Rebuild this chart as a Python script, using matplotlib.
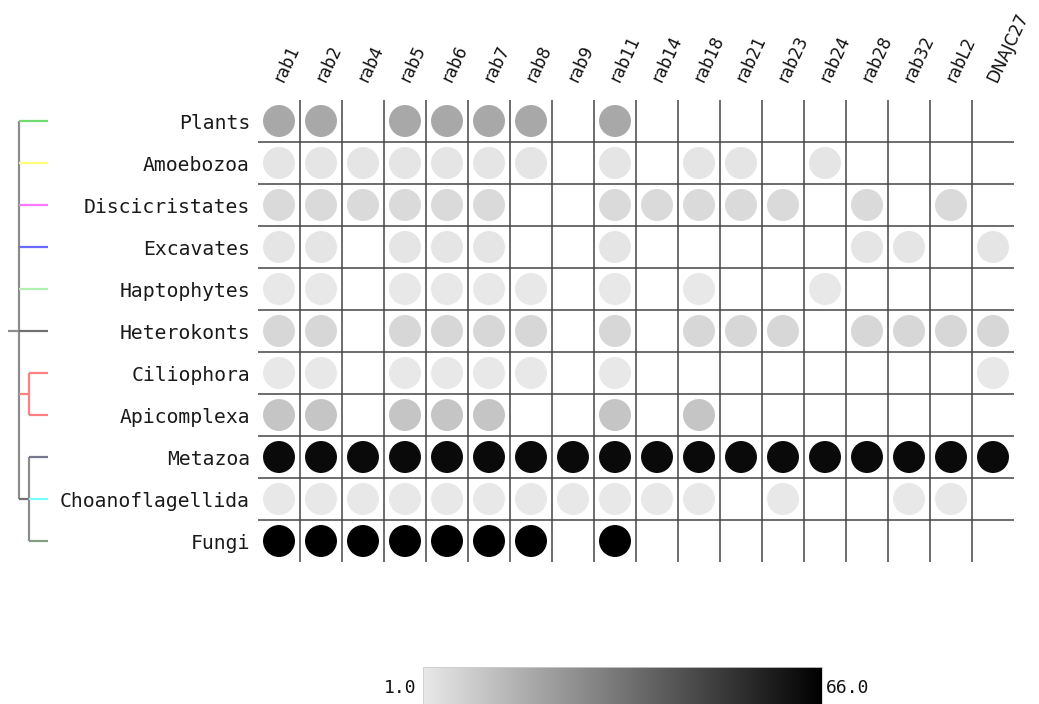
import matplotlib
matplotlib.use("Agg")
import matplotlib.pyplot as plt
import numpy as np
from matplotlib.colors import LinearSegmentedColormap, Normalize

W, H = 1039, 704

taxa = ["Plants", "Amoebozoa", "Discicristates", "Excavates", "Haptophytes",
        "Heterokonts", "Ciliophora", "Apicomplexa", "Metazoa",
        "Choanoflagellida", "Fungi"]
genes = ["rab1", "rab2", "rab4", "rab5", "rab6", "rab7", "rab8", "rab9",
         "rab11", "rab14", "rab18", "rab21", "rab23", "rab24", "rab28",
         "rab32", "rabL2", "DNAJC27"]

# number of species per group (colour value), 0 = absent
values = [
    [19, 19, 0, 19, 19, 19, 19, 0, 19, 0, 0, 0, 0, 0, 0, 0, 0, 0],
    [2, 2, 2, 2, 2, 2, 2, 0, 2, 0, 2, 2, 0, 2, 0, 0, 0, 0],
    [5, 5, 5, 5, 5, 5, 0, 0, 5, 5, 5, 5, 5, 0, 5, 0, 5, 0],
    [2, 2, 0, 2, 2, 2, 0, 0, 2, 0, 0, 0, 0, 0, 2, 2, 0, 2],
    [1, 1, 0, 1, 1, 1, 1, 0, 1, 0, 1, 0, 0, 1, 0, 0, 0, 0],
    [6, 6, 0, 6, 6, 6, 6, 0, 6, 0, 6, 6, 6, 0, 6, 6, 6, 6],
    [1, 1, 0, 1, 1, 1, 1, 0, 1, 0, 0, 0, 0, 0, 0, 0, 0, 1],
    [11, 11, 0, 11, 11, 11, 0, 0, 11, 0, 11, 0, 0, 0, 0, 0, 0, 0],
    [63] * 18,
    [1, 1, 1, 1, 1, 1, 1, 1, 1, 1, 1, 0, 1, 0, 0, 1, 1, 0],
    [66, 66, 66, 66, 66, 66, 66, 0, 66, 0, 0, 0, 0, 0, 0, 0, 0, 0],
]
vmin, vmax = 1.0, 66.0

branch_colors = ["#6fdc6f", "#ffff77", "#ff77ff", "#6a6aff", "#b0f0b0",
                 "#707070", "#ff8080", "#ff8080", "#77778f", "#77ffff",
                 "#809f80"]

fig = plt.figure(figsize=(W / 100, H / 100), dpi=100)

def rect(x0, y0, x1, y1):
    return [x0 / W, 1 - y1 / H, (x1 - x0) / W, (y1 - y0) / H]

cmap = LinearSegmentedColormap.from_list("g", ["#e8e8e8", "#000000"])
norm = Normalize(vmin=vmin, vmax=vmax)

# ---- heat grid ----
ax = fig.add_axes(rect(258, 100, 1014, 562))
nr, nc = len(taxa), len(genes)
ax.set_xlim(-0.5, nc - 0.5)
ax.set_ylim(nr - 0.5, -0.5)
ax.axis("off")
for j in range(1, nc):
    ax.plot([j - 0.5, j - 0.5], [-0.5, nr - 0.5], color="#454545", lw=1.1,
            solid_capstyle="butt", zorder=1)
for i in range(1, nr):
    ax.plot([-0.5, nc - 0.5], [i - 0.5, i - 0.5], color="#454545", lw=1.1,
            solid_capstyle="butt", zorder=1)

xs, ys, cs = [], [], []
for i, row in enumerate(values):
    for j, v in enumerate(row):
        if v > 0:
            xs.append(j); ys.append(i); cs.append(v)
ax.scatter(xs, ys, c=cs, cmap=cmap, norm=norm, s=530, linewidths=0,
           zorder=3)

for j, g in enumerate(genes):
    ax.text(j + 0.1, -0.5 - 17 / 42, g, rotation=65, rotation_mode="anchor",
            ha="left", va="baseline", fontsize=12, family="DejaVu Sans",
            color="#111111", clip_on=False)

for i, t in enumerate(taxa):
    ax.text(-0.5 - 8 / 42, i + 2.5 / 42, t, ha="right", va="center",
            fontsize=14.2, family="DejaVu Sans Mono", color="#1a1a1a",
            clip_on=False)

# ---- tree ----
tx = fig.add_axes(rect(0, 100, 60, 562))
tx.set_xlim(0, 60)
tx.set_ylim(nr - 0.5, -0.5)
tx.axis("off")
lw = 1.6
gray = "#8c8c8c"
# root
tx.plot([8, 19], [5, 5], color=gray, lw=lw, solid_capstyle="butt")
tx.plot([19, 19], [0, 9], color=gray, lw=lw, solid_capstyle="butt")
for i in range(6):
    tx.plot([19, 48], [i, i], color=branch_colors[i], lw=lw,
            solid_capstyle="butt")
# Ciliophora + Apicomplexa
tx.plot([19, 29], [6.5, 6.5], color="#ff8080", lw=lw, solid_capstyle="butt")
tx.plot([29, 29], [6, 7], color="#ff8080", lw=lw, solid_capstyle="butt")
for i in (6, 7):
    tx.plot([29, 48], [i, i], color=branch_colors[i], lw=lw,
            solid_capstyle="butt")
# Opisthokonts
tx.plot([19, 29], [9, 9], color="#707070", lw=lw, solid_capstyle="butt")
tx.plot([29, 29], [8, 10], color=gray, lw=lw, solid_capstyle="butt")
for i in (8, 9, 10):
    tx.plot([29, 48], [i, i], color=branch_colors[i], lw=lw,
            solid_capstyle="butt")

# ---- colour bar ----
cax = fig.add_axes(rect(423, 667, 822, 704))
cb = fig.colorbar(plt.cm.ScalarMappable(norm=norm, cmap=cmap), cax=cax,
                  orientation="horizontal")
cb.set_ticks([])
cb.outline.set_edgecolor("#cccccc")
cb.outline.set_linewidth(0.6)
fig.text(416 / W, 1 - 688 / H, "%.1f" % vmin, ha="right", va="center",
         fontsize=13, family="DejaVu Sans Mono", color="#111111")
fig.text(826 / W, 1 - 688 / H, "%.1f" % vmax, ha="left", va="center",
         fontsize=13, family="DejaVu Sans Mono", color="#111111")

fig.savefig("out.png", dpi=100)
